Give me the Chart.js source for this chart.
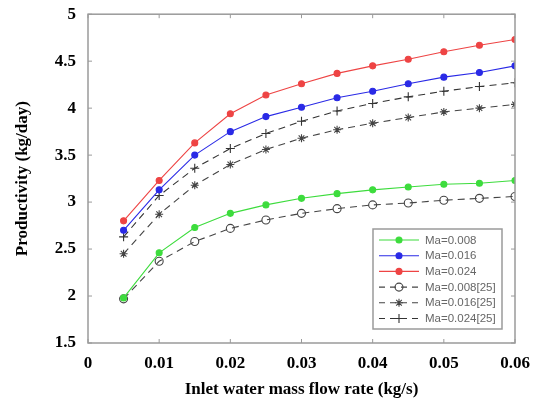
<!DOCTYPE html>
<html>
<head>
<meta charset="utf-8">
<script src="https://cdn.jsdelivr.net/npm/chart.js@4.4.1/dist/chart.umd.min.js"></script>
<style>
html,body{margin:0;padding:0;background:#fff;}
#wrap{position:relative;width:542px;height:408px;}
</style>
</head>
<body>
<div id="wrap"><canvas id="c" width="542" height="408"></canvas></div>
<script>
const flowRates = [0.005,0.01,0.015,0.02,0.025,0.03,0.035,0.04,0.045,0.05,0.055,0.06];
const seriesLabels = ["Ma=0.008","Ma=0.016","Ma=0.024","Ma=0.008[25]","Ma=0.016[25]","Ma=0.024[25]"];
const ma008 = [1.98,2.46,2.73,2.88,2.97,3.04,3.09,3.13,3.16,3.19,3.20,3.23];
const ma016 = [2.70,3.13,3.50,3.75,3.91,4.01,4.11,4.18,4.26,4.33,4.38,4.45];
const ma024 = [2.80,3.23,3.63,3.94,4.14,4.26,4.37,4.45,4.52,4.60,4.67,4.73];
const ref008 = [1.97,2.37,2.58,2.72,2.81,2.88,2.93,2.97,2.99,3.02,3.04,3.06];
const ref016 = [2.45,2.87,3.18,3.40,3.56,3.68,3.77,3.84,3.90,3.96,4.00,4.04];
const ref024 = [2.63,3.07,3.36,3.57,3.73,3.86,3.97,4.05,4.12,4.18,4.23,4.27];
const xTicks = [0,0.01,0.02,0.03,0.04,0.05,0.06];
const yTicks = [1.5,2,2.5,3,3.5,4,4.5,5];

function pts(arr){ return arr.map((v,i)=>({x:flowRates[i], y:v})); }

const serif = "'Liberation Serif','Times New Roman',serif";

const datasets = [
  {label:seriesLabels[0], data:pts(ma008), borderColor:'#3ddc3d', backgroundColor:'#3ddc3d', pointStyle:'circle', pointRadius:3, borderWidth:1.1},
  {label:seriesLabels[1], data:pts(ma016), borderColor:'#2a2ae6', backgroundColor:'#2a2ae6', pointStyle:'circle', pointRadius:3, borderWidth:1.1},
  {label:seriesLabels[2], data:pts(ma024), borderColor:'#ee4444', backgroundColor:'#ee4444', pointStyle:'circle', pointRadius:3, borderWidth:1.1},
  {label:seriesLabels[3], data:pts(ref008), borderColor:'#444', backgroundColor:'rgba(0,0,0,0)', pointStyle:'circle', pointRadius:4, borderWidth:1.1, borderDash:[7,5]},
  {label:seriesLabels[4], data:pts(ref016), borderColor:'#444', backgroundColor:'#444', pointStyle:'star', pointRadius:4, borderWidth:1.1, borderDash:[7,5]},
  {label:seriesLabels[5], data:pts(ref024), borderColor:'#333', backgroundColor:'#333', pointStyle:'cross', pointRadius:4.5, borderWidth:1.1, borderDash:[7,5]}
];

const framePlugin = {
  id:'frame',
  afterDraw(chart){
    const {ctx, chartArea:a, scales} = chart;
    ctx.save();
    ctx.strokeStyle = '#9a9a9a';
    ctx.lineWidth = 1.5;
    ctx.setLineDash([]);
    ctx.strokeRect(a.left, a.top, a.right-a.left, a.bottom-a.top);
    ctx.lineWidth = 1;
    const L = 4;
    xTicks.forEach(v=>{
      const px = scales.x.getPixelForValue(v);
      ctx.beginPath();
      ctx.moveTo(px, a.bottom); ctx.lineTo(px, a.bottom-L);
      ctx.moveTo(px, a.top); ctx.lineTo(px, a.top+L);
      ctx.stroke();
    });
    yTicks.forEach(v=>{
      const py = scales.y.getPixelForValue(v);
      ctx.beginPath();
      ctx.moveTo(a.left, py); ctx.lineTo(a.left+L, py);
      ctx.moveTo(a.right, py); ctx.lineTo(a.right-L, py);
      ctx.stroke();
    });
    // legend
    const bx = a.right - 142, by = a.bottom - 114, bw = 129, bh = 100;
    ctx.fillStyle = '#fff';
    ctx.fillRect(bx, by, bw, bh);
    ctx.strokeStyle = '#9a9a9a';
    ctx.lineWidth = 1.5;
    ctx.strokeRect(bx, by, bw, bh);
    ctx.font = "11.5px 'Liberation Sans', Arial, sans-serif";
    ctx.textBaseline = 'middle';
    chart.data.datasets.forEach((ds,i)=>{
      const y = by + 11 + i*15.7;
      ctx.save();
      ctx.strokeStyle = ds.borderColor;
      ctx.lineWidth = ds.borderWidth;
      ctx.setLineDash(ds.borderDash ? [6,5] : []);
      ctx.beginPath();
      ctx.moveTo(bx+6, y); ctx.lineTo(bx+46, y);
      ctx.stroke();
      ctx.setLineDash([]);
      ctx.fillStyle = ds.backgroundColor;
      Chart.helpers.drawPoint(ctx, {pointStyle:ds.pointStyle, radius:ds.pointRadius, rotation:0, borderWidth:1}, bx+26, y);
      ctx.restore();
      ctx.fillStyle = '#666';
      ctx.fillText(ds.label, bx+52, y+0.5);
    });
    ctx.restore();
  }
};

new Chart(document.getElementById('c'), {
  type:'line',
  data:{datasets},
  options:{
    responsive:false,
    animation:false,
    layout:{padding:{top:14, right:27, left:8, bottom:0}},
    plugins:{legend:{display:false}, tooltip:{enabled:false}},
    scales:{
      x:{
        type:'linear', min:0, max:0.06,
        afterBuildTicks(s){ s.ticks = xTicks.map(v=>({value:v})); },
        afterFit(s){ s.height = 65; },
        grid:{display:false},
        border:{display:false},
        ticks:{color:'#000', font:{family:serif, size:17, weight:'bold'}, padding:2,
          callback:v=>String(v)},
        title:{display:true, text:'Inlet water mass flow rate (kg/s)', color:'#000',
          font:{family:serif, size:17, weight:'bold'}, padding:{top:14, bottom:8}}
      },
      y:{
        type:'linear', min:1.5, max:5,
        afterBuildTicks(s){ s.ticks = yTicks.map(v=>({value:v})); },
        afterFit(s){ s.width = 80; },
        grid:{display:false},
        border:{display:false},
        ticks:{color:'#000', font:{family:serif, size:17, weight:'bold'}, padding:4,
          callback:v=>String(v)},
        title:{display:true, text:'Productivity (kg/day)', color:'#000',
          font:{family:serif, size:17, weight:'bold'}, padding:{top:4, bottom:4}}
      }
    }
  },
  plugins:[framePlugin]
});
</script>
</body>
</html>
